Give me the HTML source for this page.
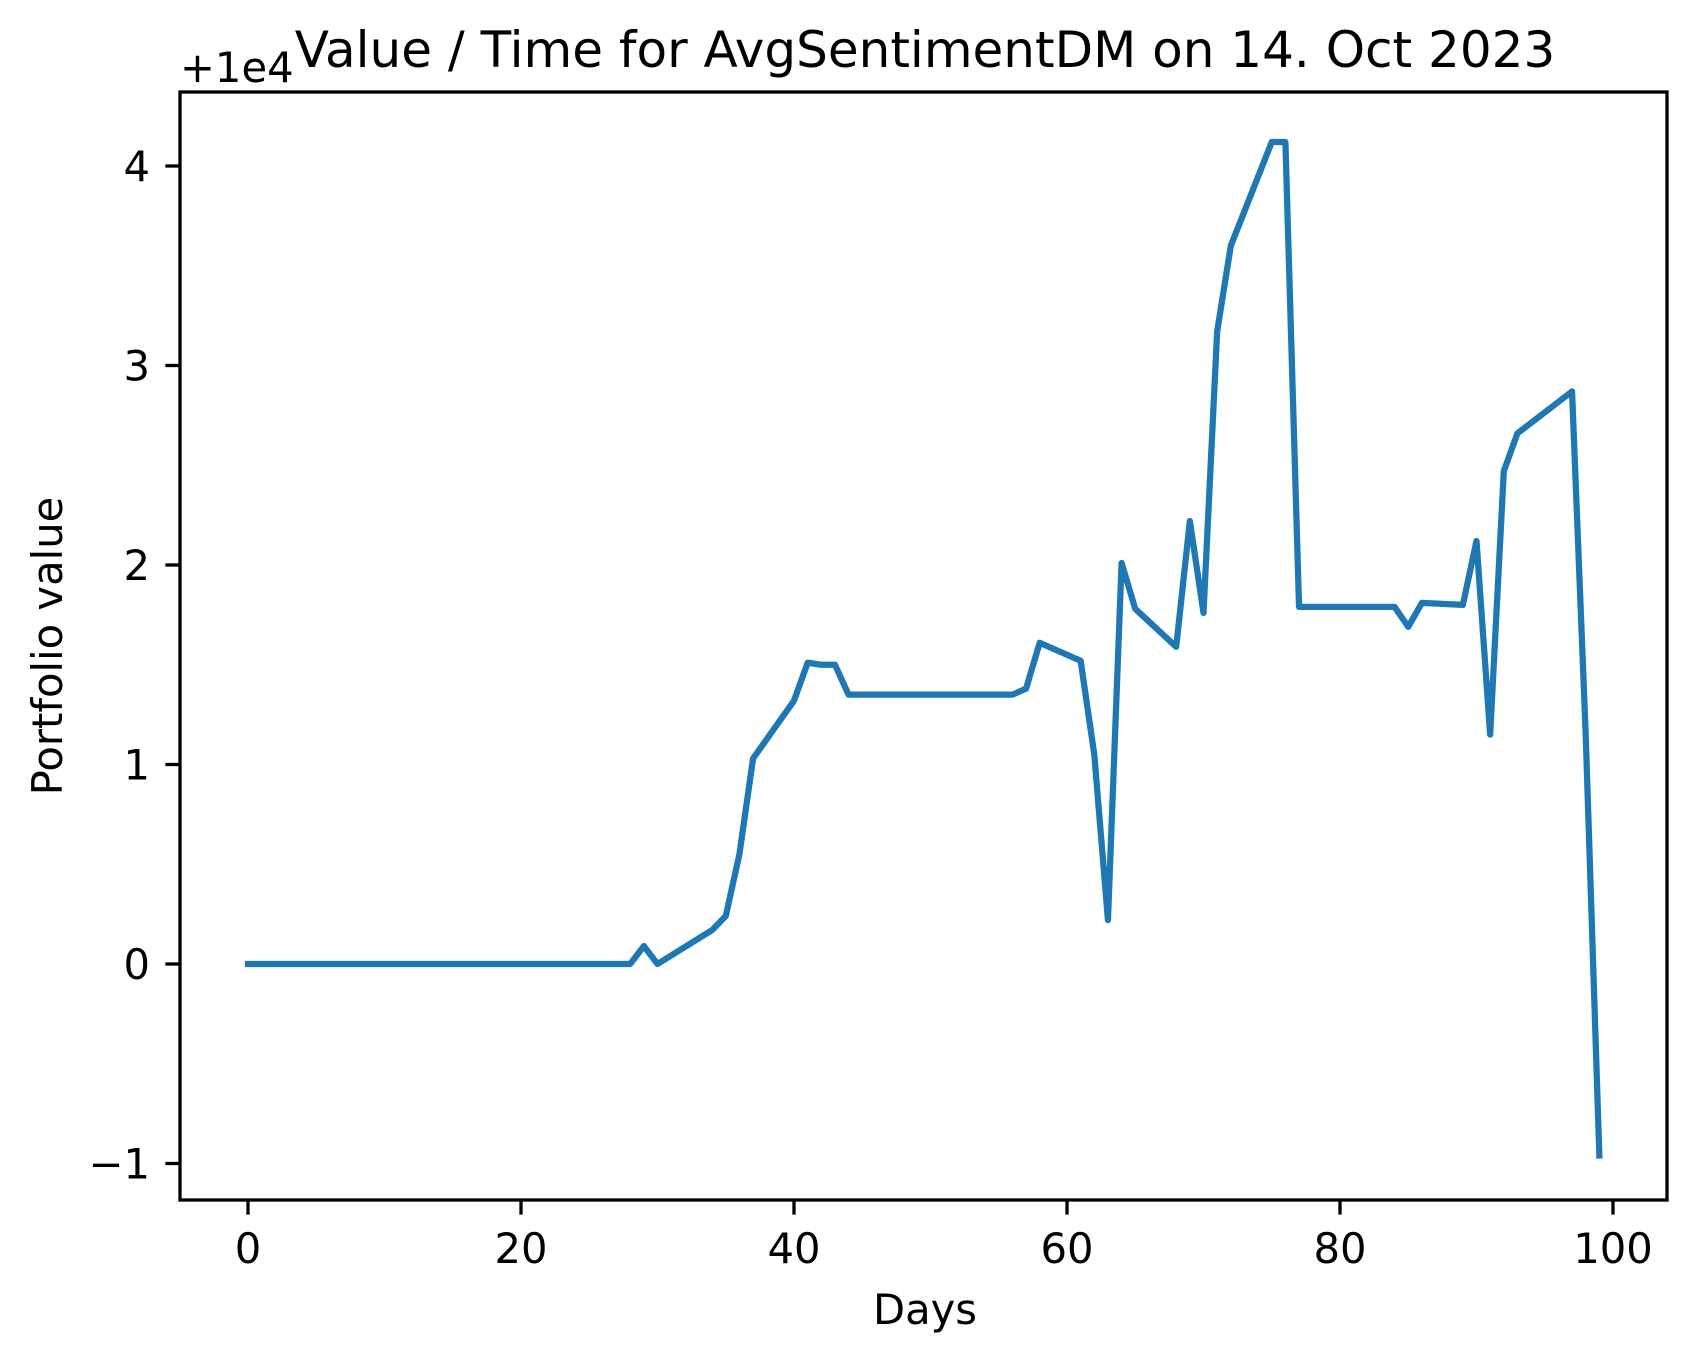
<!DOCTYPE html>
<html><head><meta charset="utf-8"><style>
html,body{margin:0;padding:0;background:#fff;}
svg{display:block;font-family:"DejaVu Sans","Liberation Sans",sans-serif;}
</style></head><body>
<svg id="chart" width="1697" height="1361" viewBox="0 0 1697 1361" xmlns="http://www.w3.org/2000/svg">
<rect x="0" y="0" width="1697" height="1361" fill="#fff"/>
<g id="plot"></g>
<rect x="180" y="92" width="1487" height="1108" fill="none" stroke="#000" stroke-width="3.3"/>
<g id="xticks"></g><g id="yticks"></g>
<text x="925" y="67" font-size="50" text-anchor="middle">Value / Time for AvgSentimentDM on 14. Oct 2023</text>
<text x="180" y="82" font-size="41.7">+1e4</text>
<text x="925" y="1324" font-size="41.7" text-anchor="middle">Days</text>
<text x="0" y="0" font-size="41.7" text-anchor="middle" transform="translate(62,646) rotate(-90)">Portfolio value</text>
</svg>
<script>
const days = [0,28,29,30,34,35,36,37,40,41,42,43,44,56,57,58,61,62,63,64,65,68,69,70,71,72,75,76,77,84,85,86,89,90,91,92,93,97,98,99];
const values = [0,0,0.09,0,0.17,0.24,0.55,1.03,1.32,1.51,1.50,1.50,1.35,1.35,1.38,1.61,1.52,1.05,0.22,2.01,1.78,1.59,2.22,1.76,3.17,3.60,4.12,4.12,1.79,1.79,1.69,1.81,1.80,2.12,1.15,2.47,2.66,2.87,1.15,-0.96];
const xTickValues = [0,20,40,60,80,100];
const yTickValues = [-1,0,1,2,3,4];
const yTickLabels = ["\u22121","0","1","2","3","4"];
const NS="http://www.w3.org/2000/svg";
function xs(v){return 248+v*13.65;}
function ys(v){return 964-v*199.5;}
const plot=document.getElementById('plot');
const pl=document.createElementNS(NS,'polyline');
pl.setAttribute('points',days.map((d,i)=>xs(d)+','+ys(values[i])).join(' '));
pl.setAttribute('fill','none');pl.setAttribute('stroke','#1f77b4');pl.setAttribute('stroke-width','6.25');pl.setAttribute('stroke-linejoin','round');pl.setAttribute('stroke-linecap','square');


plot.appendChild(pl);
const xg=document.getElementById('xticks');
xTickValues.forEach(v=>{
  const l=document.createElementNS(NS,'line');
  l.setAttribute('x1',xs(v));l.setAttribute('x2',xs(v));l.setAttribute('y1',1200);l.setAttribute('y2',1214.6);l.setAttribute('stroke','#000');l.setAttribute('stroke-width','3.3');
  
  
  xg.appendChild(l);
  const t=document.createElementNS(NS,'text');
  t.setAttribute('x',xs(v));t.setAttribute('y',1263);t.setAttribute('font-size','41.7');t.setAttribute('text-anchor','middle');t.textContent=v;
  
  
  xg.appendChild(t);
});
const yg=document.getElementById('yticks');
yTickValues.forEach((v,i)=>{
  const l=document.createElementNS(NS,'line');
  l.setAttribute('x1',165.4);l.setAttribute('x2',180);l.setAttribute('y1',ys(v));l.setAttribute('y2',ys(v));l.setAttribute('stroke','#000');l.setAttribute('stroke-width','3.3');
  
  
  yg.appendChild(l);
  const t=document.createElementNS(NS,'text');
  t.setAttribute('x',150);t.setAttribute('y',ys(v)+15);t.setAttribute('font-size','41.7');t.setAttribute('text-anchor','end');t.textContent=yTickLabels[i];
  
  
  yg.appendChild(t);
});
</script>
</body></html>
